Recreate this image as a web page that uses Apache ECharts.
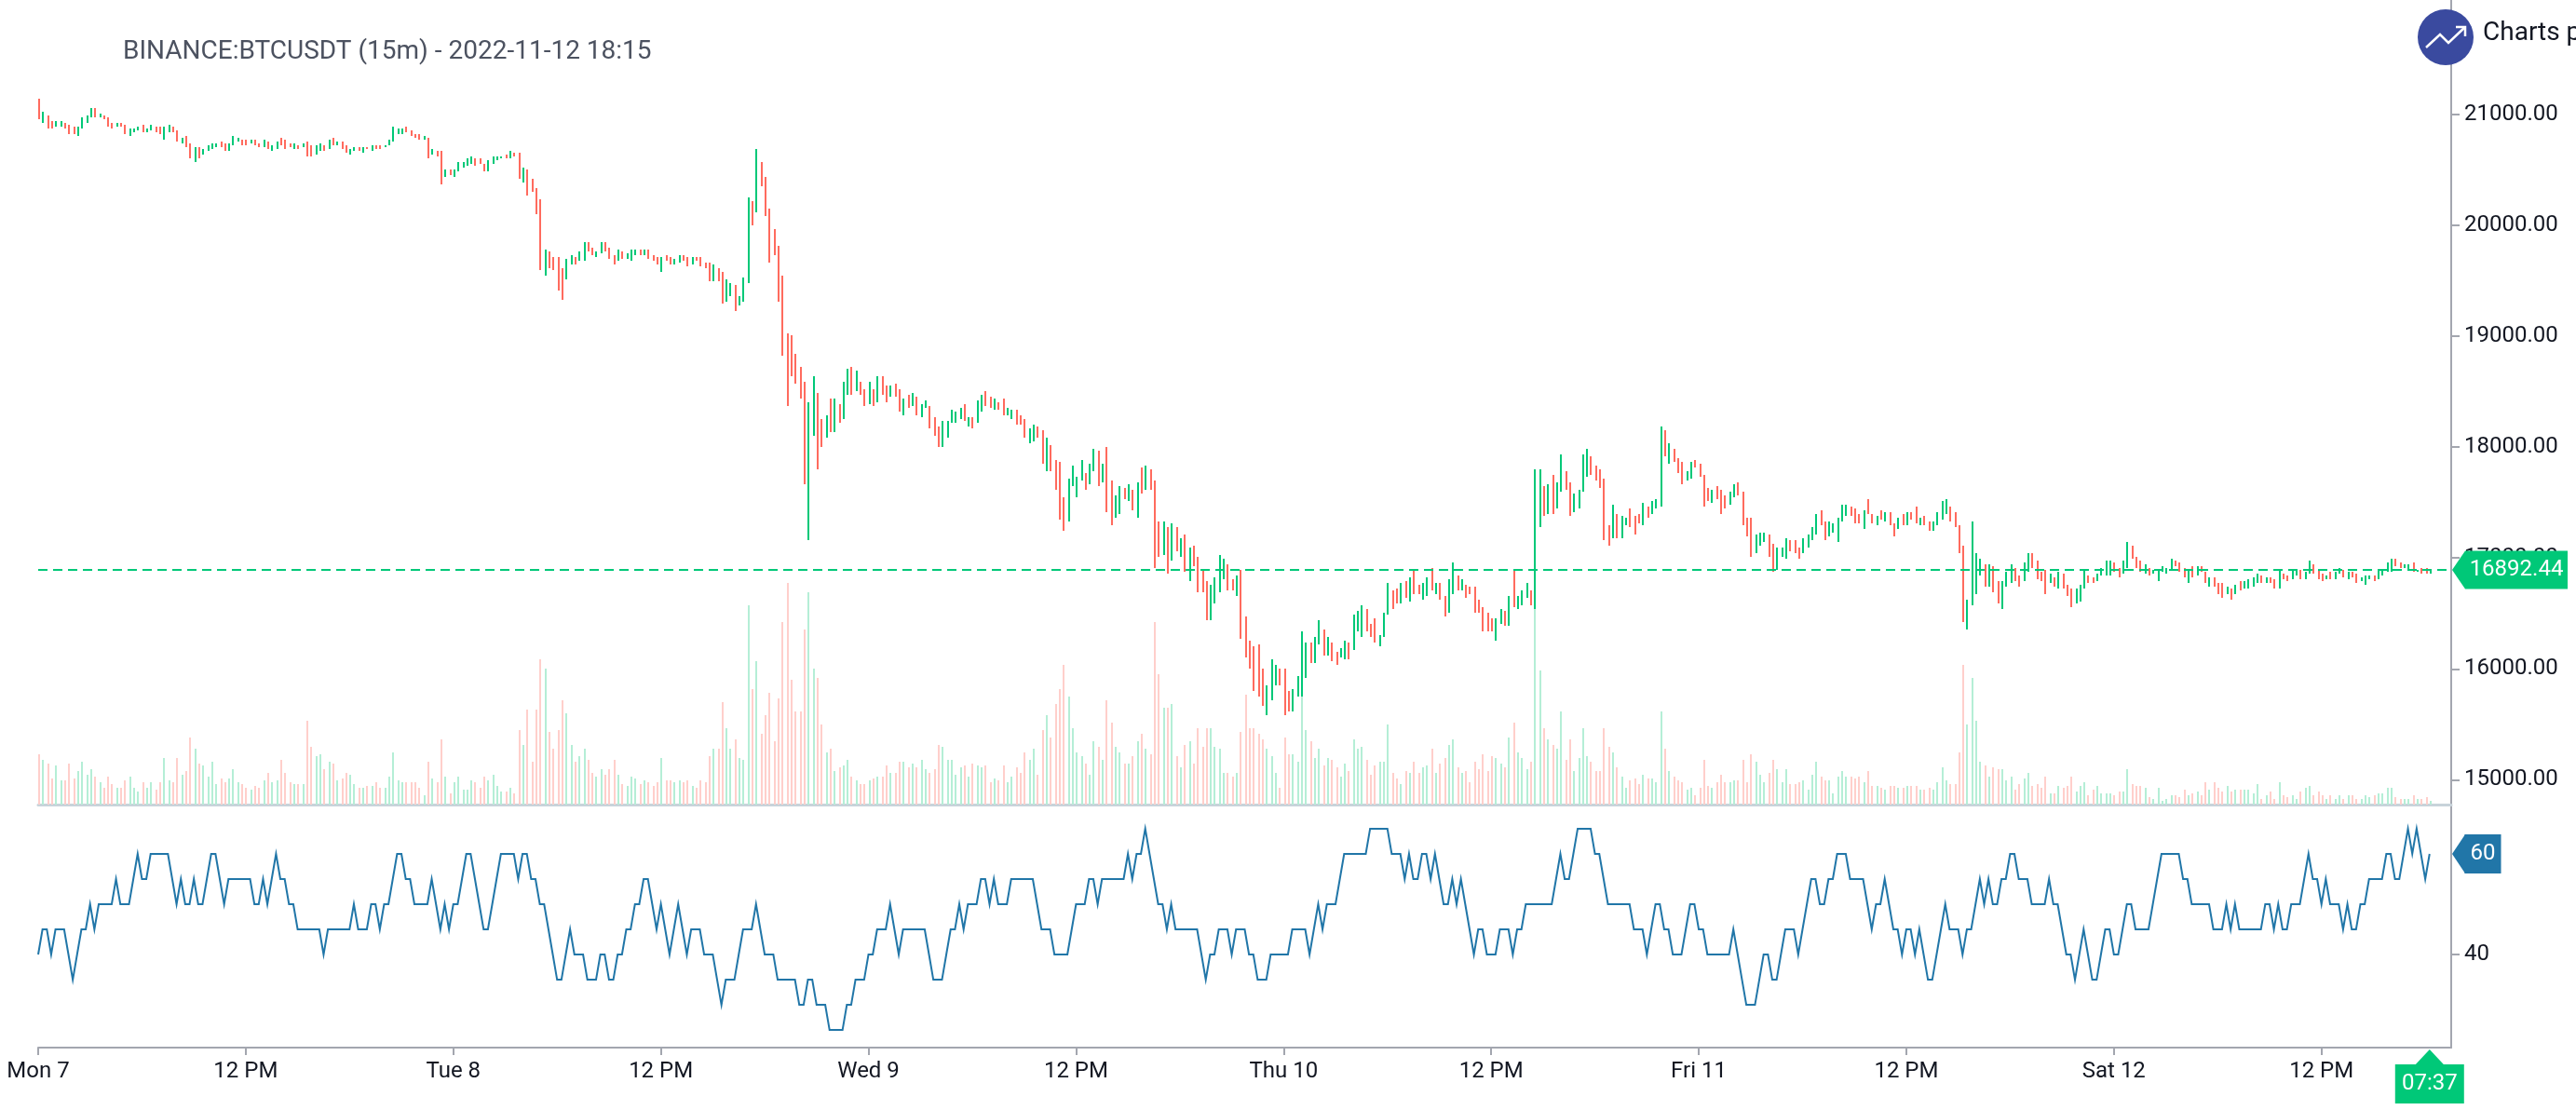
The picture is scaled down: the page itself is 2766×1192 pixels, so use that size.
<!DOCTYPE html>
<html>
<head>
<meta charset="utf-8">
<style>html,body{margin:0;padding:0;background:#fff;overflow:hidden}#c{width:2766px;height:1192px}</style>
<script src="https://cdn.jsdelivr.net/npm/echarts@6/dist/echarts.min.js"></script>
</head>
<body>
<div id="c"></div>
<script>
const chartTitle = "BINANCE:BTCUSDT (15m) - 2022-11-12 18:15";
const lastPrice = 16892.44;
const lastRsi = 60;
const countdown = "07:37";
const tickLabels = ["Mon 7","12 PM","Tue 8","12 PM","Wed 9","12 PM","Thu 10","12 PM","Fri 11","12 PM","Sat 12","12 PM"];
const priceTicks = [15000,16000,17000,18000,19000,20000,21000];
const rsiTicks = [40];
const directions = ("DUDDUUDDDU"+"UUUDUDDDUD"+"DUUUDUUDDU"+"UDDUDDUDUU"+"UUDDUUUDDU"+"DDUDUUDDDU"+"DUDDUUDUDU"+"DDUUDUDUDD"+"UUUUUDDDDU"+"DUDDUDUUUU"
 +"UDDDUUUUDU"+"DDUDDDDUDD"+"DDUUDUUDDU"+"UDDDUDUUUD"+"UDDDUDDUUD"+"DUDDDDUDDU"+"UDUUUDUDDD"+"DDDDDDDDUU"+"DDUDUDUUDU"+"DDUDUDDUDD"
 +"UDUDUUDDDU"+"UUUUDUDUUD"+"DUDDUUDDDU"+"UDDUDDDDUU"+"UUDUUDUDDU"+"UDUDUDUDDD"+"UDUDUDUDDD"+"DUUUUDDUDD"+"DDDDUUUDDD"+"UUUUDUUDUD"
 +"DUUDUUUDDD"+"UUUDDUDUDD"+"UUDUDDUUDU"+"DDDDDDDUUD"+"UDUUUDUUDU"+"DUUDDUUUUD"+"DDDDUDUUDD"+"DUDUUUDUDD"+"DUUDDDDUDD"+"DUUDDDDUUU"
 +"DDUUUDDDUU"+"UUDDUUUUUD"+"DDUDDUDUDD"+"UDUDDUDDUU"+"UUDDDDUUUU"+"DUDDUUUDDU"+"UDDDDUDUDD"+"DUUUDDUUUU"+"DDUUDDDUDU"+"UUUUDDDUDU"
 +"DDUDDDUDUD"+"UUUUDUDDUD"+"DUUDUUDDDU"+"DUUDUDDUUU"+"DUUUUDDUUD"+"UDDU").split("");
const highs = [21147,21029,20995,20945,20945,20945,20928,20911,20895,20895,
20979,20995,21063,21063,21012,20995,20979,20928,20928,20928,
20911,20878,20878,20895,20911,20878,20911,20895,20895,20895,
20911,20895,20861,20794,20811,20743,20710,20710,20693,20727,
20743,20743,20760,20743,20743,20811,20794,20777,20777,20777,
20777,20743,20777,20760,20727,20760,20794,20777,20743,20743,
20727,20743,20760,20727,20727,20743,20727,20777,20794,20760,
20760,20727,20693,20710,20710,20710,20710,20727,20727,20727,
20727,20777,20895,20878,20878,20895,20861,20827,20827,20811,
20794,20693,20676,20676,20509,20509,20509,20576,20576,20609,
20626,20609,20609,20559,20593,20626,20626,20626,20643,20677,
20660,20660,20525,20509,20425,20341,20240,19786,19769,19719,
19719,19618,19702,19736,19719,19769,19853,19853,19803,19769,
19853,19853,19803,19736,19786,19769,19753,19786,19786,19786,
19786,19786,19736,19719,19719,19736,19719,19702,19736,19736,
19719,19719,19719,19719,19669,19669,19652,19618,19585,19518,
19484,19467,19366,19534,20257,20223,20694,20576,20442,20156,
19971,19820,19551,19030,19013,18845,18728,18593,18409,18644,
18493,18257,18291,18442,18442,18392,18593,18711,18728,18695,
18594,18527,18594,18527,18644,18644,18560,18560,18577,18527,
18443,18476,18493,18460,18392,18426,18376,18275,18191,18241,
18241,18342,18325,18359,18392,18275,18275,18426,18476,18510,
18460,18443,18409,18443,18359,18342,18342,18292,18258,18174,
18208,18191,18157,18090,18023,17888,17872,17552,17720,17838,
17737,17888,17771,17855,17989,17972,17855,18006,17704,17569,
17653,17636,17670,17620,17687,17821,17838,17804,17704,17334,
17334,17284,17317,17284,17183,17216,17099,17116,17015,16897,
16796,16763,16830,17032,16998,16948,16813,16847,16897,16477,
16260,16209,16226,16008,15857,16092,16041,16008,16008,15806,
15823,15941,16344,16243,16243,16293,16445,16361,16293,16243,
16159,16193,16260,16243,16495,16529,16579,16545,16411,16461,
16310,16512,16781,16713,16730,16781,16797,16831,16898,16764,
16781,16831,16915,16781,16781,16663,16814,16965,16848,16814,
16764,16747,16747,16629,16562,16512,16461,16461,16545,16529,
16663,16898,16663,16713,16781,16713,17805,17805,17654,17671,
17755,17688,17942,17789,17688,17587,17621,17934,17980,17917,
17833,17805,17721,17301,17486,17402,17385,17369,17453,17385,
17402,17503,17469,17520,17537,18192,18158,18041,17990,17906,
17873,17789,17873,17889,17856,17755,17637,17621,17654,17621,
17570,17604,17671,17688,17604,17369,17369,17217,17234,17234,
17217,17133,17100,17100,17184,17167,17167,17100,17184,17217,
17285,17402,17436,17335,17335,17318,17369,17486,17486,17469,
17453,17402,17436,17537,17402,17385,17436,17419,17419,17318,
17369,17402,17419,17419,17469,17369,17385,17335,17335,17419,
17520,17537,17469,17419,17301,17117,16629,17335,17049,16999,
16949,16949,16932,16797,16797,16881,16949,16915,16848,16965,
17049,17049,16982,16881,16898,16865,16831,16881,16865,16764,
16730,16730,16764,16898,16848,16831,16865,16915,16982,16982,
16965,16915,16982,17150,17117,17016,16982,16949,16915,16898,
16898,16932,16915,16999,16982,16965,16915,16898,16932,16932,
16932,16881,16831,16831,16781,16781,16747,16730,16764,16797,
16797,16814,16831,16865,16848,16831,16831,16814,16898,16865,
16848,16898,16898,16898,16881,16982,16949,16898,16865,16848,
16881,16881,16915,16898,16881,16881,16865,16831,16848,16848,
16848,16898,16898,16965,16999,16999,16965,16949,16949,16965,
16898,16915,16915,16898];
const lows = [20962,20928,20878,20878,20895,20895,20878,20827,20827,20811,
20878,20928,20979,20979,20979,20962,20895,20878,20895,20895,
20827,20811,20844,20861,20844,20844,20861,20844,20827,20777,
20844,20844,20760,20743,20710,20609,20575,20609,20643,20676,
20693,20710,20710,20676,20676,20727,20760,20727,20727,20743,
20727,20710,20710,20693,20676,20693,20727,20693,20710,20693,
20693,20710,20626,20626,20643,20676,20676,20693,20727,20727,
20693,20659,20643,20676,20676,20659,20693,20676,20693,20693,
20710,20727,20760,20827,20827,20844,20811,20794,20777,20777,
20609,20643,20626,20374,20442,20458,20442,20492,20525,20542,
20559,20542,20559,20492,20492,20559,20593,20609,20609,20609,
20626,20425,20391,20274,20307,20106,19602,19551,19618,19602,
19417,19333,19518,19652,19652,19685,19685,19769,19736,19719,
19753,19769,19702,19652,19685,19702,19702,19685,19736,19736,
19736,19702,19685,19652,19585,19685,19652,19652,19669,19685,
19635,19652,19685,19635,19618,19501,19501,19501,19299,19316,
19366,19232,19282,19316,19484,20005,20122,20358,20089,19669,
19736,19316,18829,18375,18644,18577,18442,17670,17166,18106,
17804,18005,18089,18140,18140,18224,18257,18476,18476,18510,
18476,18376,18392,18376,18409,18476,18409,18460,18460,18325,
18292,18359,18376,18292,18275,18359,18174,18107,18006,18006,
18090,18224,18224,18258,18241,18191,18174,18224,18325,18376,
18359,18342,18342,18292,18292,18258,18208,18208,18090,18040,
18056,18090,17855,17788,17788,17620,17351,17250,17334,17653,
17552,17704,17620,17670,17788,17653,17687,17418,17300,17368,
17401,17536,17519,17435,17368,17586,17620,17620,16914,17015,
17032,16864,16981,17065,17015,16880,16796,16931,16696,16696,
16444,16444,16595,16696,16813,16712,16712,16662,16279,16103,
16008,15806,15756,15672,15588,15722,15857,15857,15588,15621,
15621,15756,15756,15924,16058,16058,16226,16125,16125,16075,
16041,16109,16092,16092,16176,16344,16293,16344,16293,16243,
16209,16293,16495,16545,16596,16596,16646,16613,16680,16680,
16629,16663,16713,16680,16629,16478,16512,16680,16713,16713,
16646,16680,16512,16512,16344,16344,16344,16260,16411,16394,
16394,16562,16545,16579,16646,16579,16545,17285,17385,17402,
17402,17453,17604,17621,17385,17419,17453,17604,17738,17755,
17705,17637,17167,17117,17184,17184,17184,17301,17285,17217,
17318,17301,17369,17402,17453,17469,17923,17856,17873,17772,
17671,17705,17721,17822,17738,17469,17520,17503,17537,17402,
17453,17486,17553,17570,17301,17201,17016,17049,17117,17150,
17016,16881,16898,17016,16999,17066,17049,16999,17049,17100,
17167,17217,17301,17167,17201,17234,17150,17335,17385,17385,
17318,17318,17268,17402,17318,17301,17352,17335,17301,17201,
17268,17301,17301,17352,17318,17301,17301,17251,17251,17301,
17352,17402,17335,17285,17049,16428,16361,16579,16680,16848,
16747,16747,16697,16596,16545,16747,16781,16797,16747,16797,
16881,16915,16814,16797,16680,16781,16747,16730,16730,16663,
16562,16596,16613,16730,16781,16781,16797,16848,16848,16848,
16881,16831,16865,16915,16999,16915,16881,16865,16848,16865,
16797,16881,16865,16898,16932,16881,16831,16781,16831,16848,
16881,16781,16747,16747,16680,16646,16680,16629,16680,16713,
16730,16730,16747,16781,16781,16781,16781,16730,16730,16814,
16797,16814,16848,16814,16814,16865,16865,16814,16797,16814,
16814,16814,16865,16831,16814,16831,16781,16797,16764,16814,
16797,16814,16848,16881,16881,16932,16915,16915,16898,16881,
16881,16865,16865,16865];
const volumes = [103,91,84,53,80,49,49,84,53,68,
88,61,72,57,45,34,57,42,34,34,
49,57,34,26,45,34,45,30,45,95,
49,45,95,61,68,137,114,84,80,57,
88,42,53,45,53,72,45,42,34,30,
38,34,49,65,45,49,92,65,45,42,
42,42,168,118,99,103,72,88,84,49,
53,65,61,42,34,34,38,38,45,34,
34,57,107,49,45,45,45,45,34,19,
88,53,45,133,57,23,45,57,30,30,
49,45,34,57,49,61,38,26,26,34,
23,149,122,191,88,191,294,275,145,114,
149,210,183,122,88,99,111,92,65,57,
72,61,72,92,61,42,38,57,53,42,
49,45,38,45,95,49,49,45,49,45,
49,38,34,49,45,99,111,111,206,156,
111,133,95,91,401,233,290,141,179,225,
126,214,367,447,252,187,187,355,428,275,
256,160,107,111,68,76,80,91,57,49,
42,42,49,53,57,57,80,65,65,88,
88,76,84,76,92,72,65,72,122,118,
92,92,61,76,80,57,84,80,76,80,
45,53,49,80,45,57,76,65,107,91,
111,61,149,179,137,202,233,283,218,153,
107,99,84,61,126,118,91,210,164,118,
107,84,84,99,126,141,111,103,367,263,
195,195,202,99,76,122,126,84,153,118,
156,153,118,111,65,65,57,65,145,222,
153,153,141,133,114,99,65,34,137,103,
103,88,218,149,126,95,114,80,95,91,
76,57,84,68,130,114,118,91,61,80,
88,88,160,65,53,42,68,65,88,65,
76,80,114,65,84,95,122,130,76,65,
68,45,88,72,103,68,99,95,84,76,
137,164,107,95,72,88,402,271,153,130,
122,114,187,91,133,68,95,153,99,88,
68,68,156,118,107,76,57,34,49,53,
42,61,53,53,45,187,111,68,57,49,
45,30,34,19,34,91,38,34,
44,60,44,44,50,50,92,44,102,87,
60,44,65,92,71,46,73,41,41,44,
50,29,60,87,55,48,48,23,55,69,
55,58,53,55,44,69,39,36,32,29,
39,39,34,32,39,39,39,29,29,34,
29,46,76,50,42,41,107,282,161,256,
168,87,79,55,76,73,71,50,55,29,
42,53,65,39,41,34,58,23,23,36,
34,39,58,26,39,44,18,29,37,21,
23,22,20,26,26,73,42,39,36,34,
16,13,32,7,13,18,18,16,29,18,
23,26,18,46,31,44,32,26,36,25,
29,29,29,29,23,42,13,18,26,13,
46,18,16,18,11,26,34,39,18,26,
20,13,20,13,18,11,18,18,10,11,
20,16,18,23,23,34,34,16,13,13,
13,18,13,13,16,7];
const rsiValues = [40,45,45,40,45,45,45,40,35,40,
45,45,50,45,50,50,50,50,55,50,
50,50,55,60,55,55,60,60,60,60,
60,55,50,55,50,50,55,50,50,55,
60,60,55,50,55,55,55,55,55,55,
50,50,55,50,55,60,55,55,50,50,
45,45,45,45,45,45,40,45,45,45,
45,45,45,50,45,45,45,50,50,45,
50,50,55,60,60,55,55,50,50,50,
50,55,50,45,50,45,50,50,55,60,
60,55,50,45,45,50,55,60,60,60,
60,55,60,60,55,55,50,50,45,40,
35,35,40,45,40,40,40,35,35,35,
40,40,35,35,40,40,45,45,50,50,
55,55,50,45,50,45,40,45,50,45,
40,45,45,45,40,40,40,35,30,35,
35,35,40,45,45,45,50,45,40,40,
40,35,35,35,35,35,30,30,35,35,
30,30,30,25,25,25,25,30,30,35,
35,35,40,40,45,45,45,50,45,40,
45,45,45,45,45,45,40,35,35,35,
40,45,45,50,45,50,50,50,55,55,
50,55,50,50,50,55,55,55,55,55,
55,50,45,45,45,40,40,40,40,45,
50,50,50,55,55,50,55,55,55,55,
55,55,60,55,60,60,65,60,55,50,
50,45,50,45,45,45,45,45,45,40,
35,40,40,45,45,45,40,45,45,45,
40,40,35,35,35,40,40,40,40,40,
45,45,45,45,40,45,50,45,50,50,
50,55,60,60,60,60,60,60,65,65,
65,65,65,60,60,60,55,60,55,55,
60,60,55,60,55,50,50,55,50,55,
50,45,40,45,45,40,40,40,45,45,
45,40,45,45,50,50,50,50,50,50,
50,55,60,55,55,60,65,65,65,65,
60,60,55,50,50,50,50,50,50,45,
45,45,40,45,50,50,45,45,40,40,
40,45,50,50,45,45,40,40,40,40,
40,40,45,40,35,30,30,30,35,40,
40,35,35,40,45,45,45,40,45,50,
55,55,50,50,55,55,60,60,60,55,
55,55,55,50,45,50,50,55,50,45,
45,40,45,45,40,45,40,35,35,40,
45,50,45,45,45,40,45,45,50,55,
50,55,50,50,55,55,60,60,55,55,
55,50,50,50,50,55,50,50,45,40,
40,35,40,45,40,35,35,40,45,45,
40,40,45,50,50,45,45,45,45,50,
55,60,60,60,60,60,55,55,50,50,
50,50,50,45,45,45,50,45,50,45,
45,45,45,45,45,50,50,45,50,45,
45,50,50,50,55,60,55,55,50,55,
50,50,50,45,50,45,45,50,50,55,
55,55,55,60,60,55,55,60,65,60,
65,60,55,60];

const GREEN="#00c878", RED="#ff6b5e", GREEN_V="#b5eed6", RED_V="#ffcfcb", BLUE="#2176a8", AXIS="#a3a6af", SEP="#c8d3da", TEXT="#131722";
const FONT='Roboto, Lato, sans-serif';
const BARS_PER_LABEL=48, PAD=5;
const N=highs.length;
const cats=[];for(let i=0;i<N+PAD;i++)cats.push(String(i));
const last=N+PAD-1;
const candleData=highs.map((h,i)=>[i,h,lows[i],directions[i]==="U"?1:0]);
const volumeData=volumes.map((v,i)=>[i,v,0,directions[i]==="U"?1:0]);
const showTick=(i)=>i%BARS_PER_LABEL===0&&i/BARS_PER_LABEL<tickLabels.length;

// a 2-pixel stick between two values, snapped to the even pixel grid of the original retina canvas
const stick=(upColor,downColor)=>(params,api)=>{
  const top=api.coord([api.value(0),api.value(1)]);
  const bottom=api.coord([api.value(0),api.value(2)]);
  const x=2*Math.round((top[0]-1)/2)+1;
  const y1=2*Math.round(top[1]/2), y2=2*Math.round(bottom[1]/2);
  return {type:"rect",shape:{x,y:y1,width:2,height:Math.max(2,y2-y1)},style:{fill:api.value(3)?upColor:downColor}};
};

const tag=(coord,text,color,w,h,ox,oy,size)=>({coord,symbol:"rect",symbolSize:[w,h],symbolOffset:[ox,oy],itemStyle:{color},
  label:{show:true,position:"inside",formatter:text,color:"#fff",fontSize:size||24,fontFamily:FONT}});
const arrow=(coord,color,rot,w,h,ox,oy)=>({coord,symbol:"triangle",symbolRotate:rot,symbolSize:[w,h],symbolOffset:[ox,oy],itemStyle:{color},label:{show:false}});

const chart=echarts.init(document.getElementById("c"),null,{renderer:"canvas",width:2766,height:1192});
chart.setOption({
  animation:false,backgroundColor:"#fff",
  title:{text:chartTitle,left:127,top:37,textStyle:{color:"#4c5260",fontSize:28,fontWeight:"normal",fontFamily:FONT}},
  grid:[{left:41,top:0,width:2591,height:864},{left:41,top:864,width:2591,height:261}],
  xAxis:[
   {type:"category",data:cats,gridIndex:0,boundaryGap:false,axisLine:{show:true,onZero:false,lineStyle:{color:SEP,width:3}},axisTick:{show:false},axisLabel:{show:false},splitLine:{show:false}},
   {type:"category",data:cats,gridIndex:1,boundaryGap:false,axisLine:{show:true,onZero:false,lineStyle:{color:AXIS,width:2}},
    axisTick:{show:true,length:8,interval:(i)=>showTick(i),lineStyle:{color:AXIS,width:2}},
    axisLabel:{show:true,interval:(i)=>showTick(i),margin:14,color:TEXT,fontSize:24,fontFamily:FONT,hideOverlap:false,showMinLabel:true,formatter:(v,i)=>tickLabels[i/BARS_PER_LABEL]},splitLine:{show:false}}
  ],
  yAxis:[
   {type:"value",gridIndex:0,position:"right",min:14777,max:22031,scale:true,axisLine:{show:true,lineStyle:{color:AXIS,width:2}},
    axisTick:{show:true,length:9,customValues:priceTicks,lineStyle:{color:AXIS,width:2}},
    axisLabel:{show:true,margin:14,customValues:priceTicks,color:TEXT,fontSize:24,fontFamily:FONT,formatter:(v)=>v.toFixed(2)},splitLine:{show:false}},
   {type:"value",gridIndex:0,position:"left",min:0,max:1624,show:false,splitLine:{show:false}},
   {type:"value",gridIndex:1,position:"right",min:21.5,max:69.8,scale:true,axisLine:{show:true,lineStyle:{color:AXIS,width:2}},
    axisTick:{show:true,length:9,customValues:rsiTicks,lineStyle:{color:AXIS,width:2}},
    axisLabel:{show:true,margin:14,customValues:rsiTicks,color:TEXT,fontSize:24,fontFamily:FONT},splitLine:{show:false}}
  ],
  series:[
   {name:"Volume",type:"custom",xAxisIndex:0,yAxisIndex:1,data:volumeData,renderItem:stick(GREEN_V,RED_V),encode:{x:0,y:[1,2]},clip:false,z:1,silent:true},
   {name:"Price",type:"custom",xAxisIndex:0,yAxisIndex:0,data:candleData,renderItem:stick(GREEN,RED),encode:{x:0,y:[1,2]},clip:false,z:3,silent:true,
    markLine:{silent:true,symbol:"none",animation:false,label:{show:false},lineStyle:{color:GREEN,type:[10,6],width:2},data:[{yAxis:lastPrice}]},
    markPoint:{silent:true,animation:false,z:9,data:[
      tag([last,lastPrice],String(lastPrice),GREEN,110,41,70,0),
      arrow([last,lastPrice],GREEN,90,41,14,8,0)
    ]}},
   {name:"RSI",type:"line",xAxisIndex:1,yAxisIndex:2,data:rsiValues,showSymbol:false,symbol:"none",smooth:false,clip:false,z:3,silent:true,
    lineStyle:{color:BLUE,width:2,join:"miter"},
    markPoint:{silent:true,animation:false,z:9,data:[
      tag([last,lastRsi],String(lastRsi),BLUE,39,42,34,0),
      arrow([last,lastRsi],BLUE,90,42,14,8,0),
      tag([N-1,21.5],countdown,GREEN,74,42,0,39),
      arrow([N-1,21.5],GREEN,0,30,16,0,10)
    ]}}
  ],
  graphic:[
   {type:"circle",z:20,shape:{cx:2626,cy:40,r:30},style:{fill:"#3a4a9f"}},
   {type:"polyline",z:21,shape:{points:[[2605,51],[2620,37],[2629,46],[2647,29]]},style:{stroke:"#fff",lineWidth:2.5,fill:null}},
   {type:"polyline",z:21,shape:{points:[[2637,29],[2647,29],[2647,39]]},style:{stroke:"#fff",lineWidth:2.5,fill:null}},
   {type:"text",z:21,x:2666,y:22,style:{text:"Charts pro",fill:TEXT,font:'28px '+FONT}}
  ]
});
</script>
</body>
</html>
